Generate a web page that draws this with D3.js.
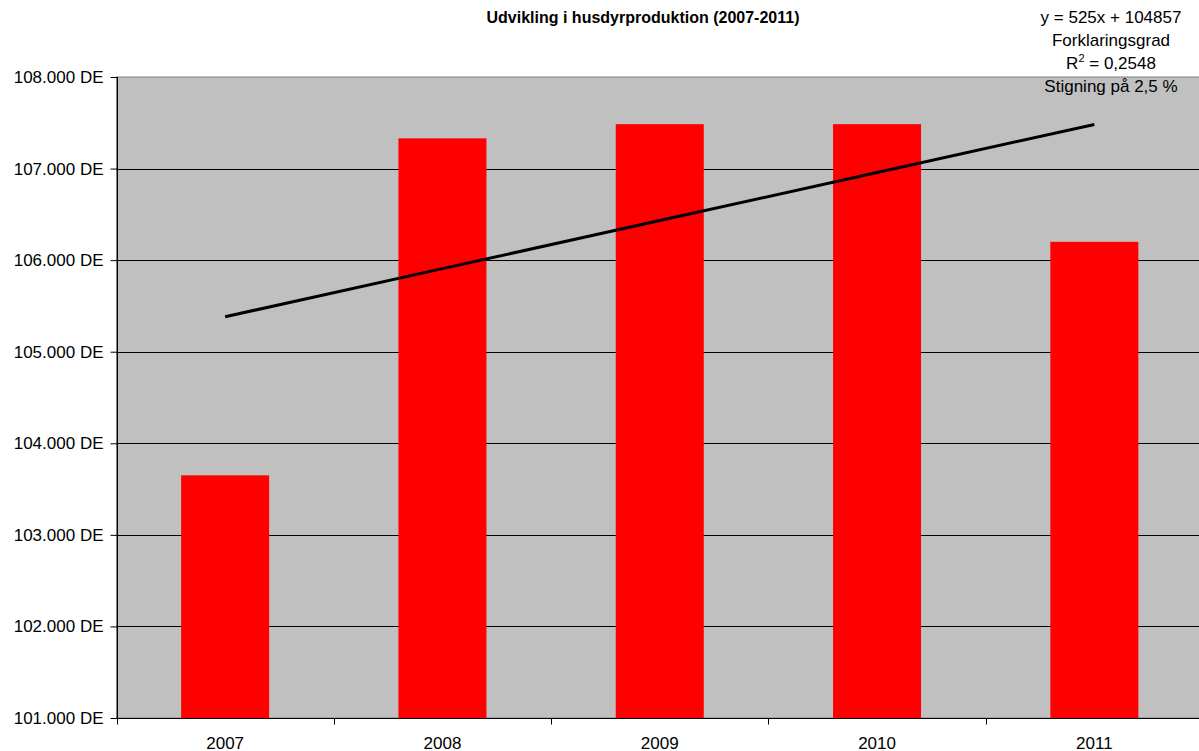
<!DOCTYPE html>
<html lang="da">
  <head>
    <meta charset="UTF-8" />
    <title>Udvikling i husdyrproduktion</title>
    <style>
      body {
        margin: 0;
        background: #fff;
        font-family: Arial, "Liberation Sans", sans-serif;
      }
      svg text {
        font-family: Arial, "Liberation Sans", sans-serif;
      }
    </style>
  </head>
  <body>
    <div id="chart"></div>
    <script src="https://d3js.org/d3.v7.min.js"></script>
    <script>
      // data
      const years = ["2007", "2008", "2009", "2010", "2011"];
      const values = [103650, 107330, 107485, 107485, 106200];
      const yTicks = [101000, 102000, 103000, 104000, 105000, 106000, 107000, 108000];
      // trend line y = 525x + 104857, x = 1..5
      const trendSlope = 525;
      const trendIntercept = 104857;
      const trendText = ["y = 525x + 104857", "Forklaringsgrad", "R2 = 0,2548", "Stigning på 2,5 %"];

      const width = 1199,
        height = 751;
      const margin = { top: 77, right: -4, bottom: 33, left: 116.5 };

      const svg = d3
        .select("#chart")
        .append("svg")
        .attr("width", width)
        .attr("height", height);

      const x = d3
        .scaleBand()
        .domain(years)
        .range([margin.left, width - margin.right])
        .paddingInner(0.595)
        .paddingOuter(0.2975);

      const y = d3
        .scaleLinear()
        .domain([101000, 108000])
        .range([height - margin.bottom, margin.top]);

      const fmt = (v) => d3.format(",")(v).replace(/,/g, ".") + " DE";

      // plot area
      svg
        .append("rect")
        .attr("x", margin.left)
        .attr("y", margin.top)
        .attr("width", width - margin.right - margin.left)
        .attr("height", y(101000) - y(108000))
        .style("fill", "#c0c0c0")
        .style("stroke", "#808080")
        .style("stroke-width", 1);

      // gridlines
      svg
        .selectAll(".grid")
        .data(yTicks.filter((d) => d > 101000 && d < 108000))
        .enter()
        .append("line")
        .attr("class", "grid")
        .attr("x1", margin.left)
        .attr("x2", width)
        .attr("y1", (d) => Math.round(y(d)) + 0.5)
        .attr("y2", (d) => Math.round(y(d)) + 0.5)
        .style("stroke", "#000")
        .style("stroke-width", 1);

      // bars
      svg
        .selectAll(".bar")
        .data(years)
        .enter()
        .append("rect")
        .attr("class", "bar")
        .attr("x", (d) => x(d))
        .attr("width", x.bandwidth())
        .attr("y", (d, i) => y(values[i]))
        .attr("height", (d, i) => y(101000) - y(values[i]))
        .style("fill", "#ff0000");

      // trend line
      const trendPts = years.map((d, i) => [
        x(d) + x.bandwidth() / 2,
        y(trendSlope * (i + 1) + trendIntercept),
      ]);
      svg
        .append("path")
        .attr("d", d3.line()(trendPts))
        .style("fill", "none")
        .style("stroke", "#000")
        .style("stroke-width", 3);

      // y axis
      const yAxis = svg
        .append("g")
        .attr("transform", `translate(${Math.round(margin.left) + 0.5},0)`)
        .call(d3.axisLeft(y).tickValues(yTicks).tickFormat(fmt).tickSize(7).tickPadding(7));
      yAxis.select(".domain").attr("d", `M0,${y(108000)}V${y(101000)}`);
      yAxis.selectAll("text").style("font-size", "17px").style("fill", "#000");
      yAxis.selectAll("line").style("stroke", "#000");

      // x axis
      const bandStep = x.step();
      const xAxis = svg
        .append("g")
        .attr("transform", `translate(0,${Math.round(y(101000)) + 0.5})`);
      xAxis
        .append("line")
        .attr("x1", margin.left)
        .attr("x2", width)
        .style("stroke", "#000");
      xAxis
        .selectAll(".xtick")
        .data(d3.range(years.length + 1))
        .enter()
        .append("line")
        .attr("x1", (i) => Math.round(margin.left + i * bandStep) + 0.5)
        .attr("x2", (i) => Math.round(margin.left + i * bandStep) + 0.5)
        .attr("y1", 0)
        .attr("y2", 6)
        .style("stroke", "#000");
      xAxis
        .selectAll(".xlabel")
        .data(years)
        .enter()
        .append("text")
        .attr("x", (d) => x(d) + x.bandwidth() / 2)
        .attr("y", 30)
        .attr("text-anchor", "middle")
        .style("font-size", "17px")
        .text((d) => d);

      // title
      svg
        .append("text")
        .attr("x", 643)
        .attr("y", 23)
        .attr("text-anchor", "middle")
        .style("font-size", "16px")
        .style("font-weight", "bold")
        .text("Udvikling i husdyrproduktion (2007-2011)");

      // trend label
      const tl = svg
        .append("text")
        .attr("x", 1111)
        .attr("text-anchor", "middle")
        .style("font-size", "17px");
      trendText.forEach((t, i) => {
        const ts = tl.append("tspan").attr("x", 1111).attr("y", 23 + i * 23);
        if (t.startsWith("R2")) {
          ts.append("tspan").text("R");
          ts.append("tspan").attr("dy", -7).style("font-size", "11px").text("2");
          ts.append("tspan").attr("dy", 7).text(t.slice(2));
        } else {
          ts.text(t);
        }
      });
    </script>
  </body>
</html>
